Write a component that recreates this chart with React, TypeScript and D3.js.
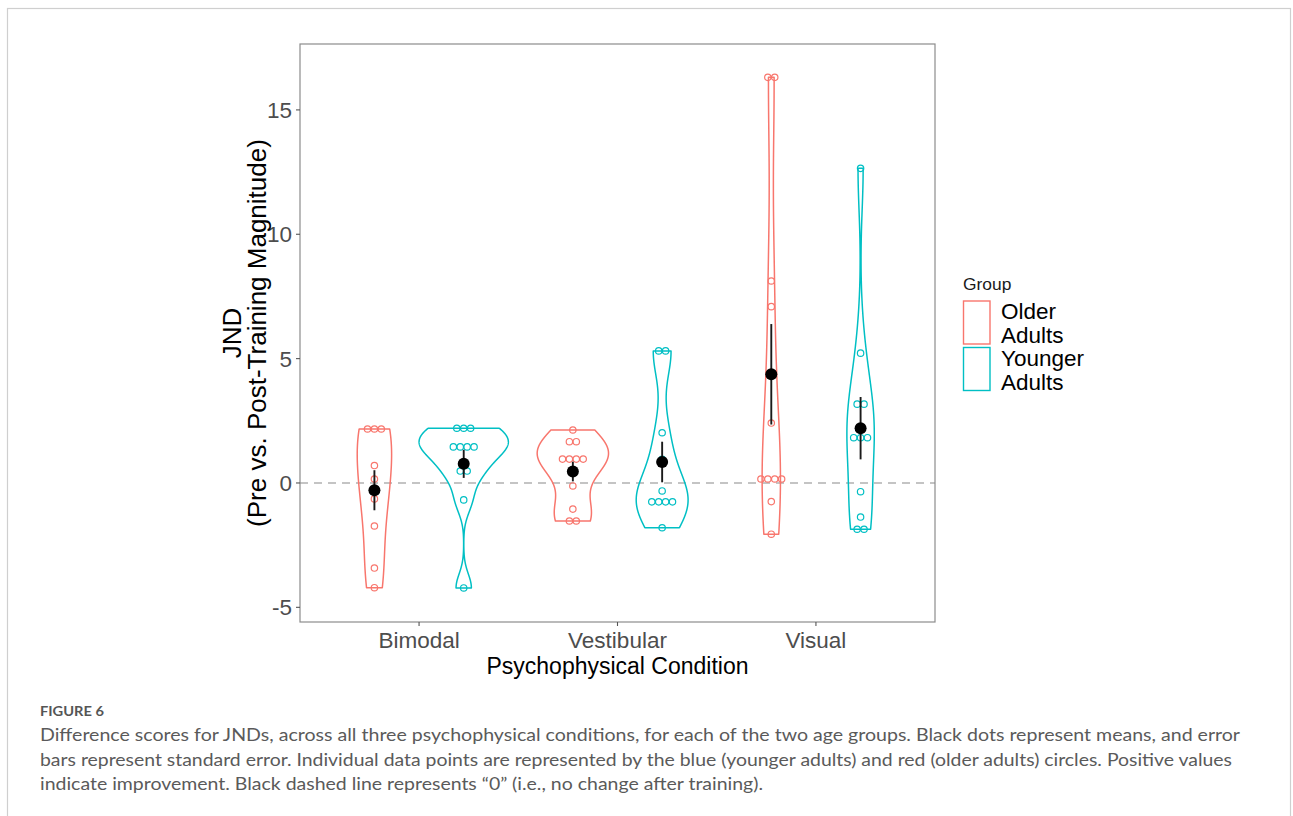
import * as d3 from "d3";

const conditions = ["Bimodal", "Vestibular", "Visual"];
const groupLabels = [["Older", "Adults"], ["Younger", "Adults"]];
const groupColors = ["#F8766D", "#00BFC4"];

// individual difference scores
const bimodalOlder = [2.17, 2.17, 2.17, 0.7, 0.16, -0.64, -1.73, -3.42, -4.21];
const bimodalYounger = [2.2, 2.2, 2.2, 1.45, 1.45, 1.45, 1.45, 0.48, 0.48, -0.68, -4.22];
const vestibularOlder = [2.13, 1.66, 1.66, 0.96, 0.96, 0.96, 0.96, -0.12, -1.05, -1.53, -1.53];
const vestibularYounger = [5.31, 5.31, 2.02, 0.95, -0.32, -0.76, -0.76, -0.76, -0.76, -1.8];
const visualOlder = [16.31, 16.31, 8.12, 7.09, 2.41, 0.16, 0.16, 0.16, 0.16, -0.75, -2.06];
const visualYounger = [12.65, 5.22, 3.17, 3.17, 1.82, 1.82, 1.82, -0.35, -1.37, -1.86, -1.86];

const yTicks = [-5, 0, 5, 10, 15];

const captionLines = [
  "Difference scores for JNDs, across all three psychophysical conditions, for each of the two age groups. Black dots represent means, and error",
  "bars represent standard error. Individual data points are represented by the blue (younger adults) and red (older adults) circles. Positive values",
  "indicate improvement. Black dashed line represents \u201c0\u201d (i.e., no change after training).",
];
const captionWidths = [1200, 1192, 723];

const series = [
  { condition: "Bimodal", group: 0, values: bimodalOlder },
  { condition: "Bimodal", group: 1, values: bimodalYounger },
  { condition: "Vestibular", group: 0, values: vestibularOlder },
  { condition: "Vestibular", group: 1, values: vestibularYounger },
  { condition: "Visual", group: 0, values: visualOlder },
  { condition: "Visual", group: 1, values: visualYounger },
];

const WIDTH = 1293;
const HEIGHT = 816;
const PANEL = { left: 300, right: 935, top: 44, bottom: 622 };
const FONT = "'Liberation Sans', Arial, Helvetica, sans-serif";
const DOT = 6.9;

// R's bw.nrd0
function bandwidth(values: number[]): number {
  const sorted = [...values].sort(d3.ascending);
  const sd = d3.deviation(sorted) ?? 0;
  const iqr = ((d3.quantileSorted(sorted, 0.75) ?? 0) - (d3.quantileSorted(sorted, 0.25) ?? 0)) / 1.34;
  let lo = Math.min(sd, iqr);
  if (!(lo > 0)) lo = sd || 1;
  return 0.9 * lo * Math.pow(sorted.length, -0.2);
}

function kde(values: number[]) {
  const bw = bandwidth(values);
  const [lo, hi] = d3.extent(values) as [number, number];
  return d3.range(512).map((i) => {
    const t = lo + ((hi - lo) * i) / 511;
    const d = d3.sum(values, (v) => Math.exp(-0.5 * ((t - v) / bw) ** 2)) / (values.length * bw * Math.sqrt(2 * Math.PI));
    return { t, d };
  });
}

export default function App() {
  const x = d3.scalePoint<string>().domain(conditions).range([PANEL.left, PANEL.right]).padding(0.6);
  const y = d3.scaleLinear().domain([-5.59, 17.65]).range([PANEL.bottom, PANEL.top]);
  const half = x.step() * 0.225;
  const densities = series.map((s) => kde(s.values));
  const maxD = d3.max(densities, (ds) => d3.max(ds, (p) => p.d)) ?? 1;
  const line = d3.line<[number, number]>();

  return (
    <div style={{ position: "absolute", left: 0, top: 0 }}>
      <svg width={WIDTH} height={HEIGHT} style={{ display: "block", background: "#fff" }}>
        <rect x={7.5} y={8.5} width={1283} height={900} fill="#fff" stroke="#cfcfcf" strokeWidth={1.2} />

        <line x1={PANEL.left} x2={PANEL.right} y1={y(0)} y2={y(0)} stroke="#8a8a8a" strokeWidth={1.1} strokeDasharray="8 6" />

        {series.map((s, i) => {
          const cx = (x(s.condition) ?? 0) + (s.group === 0 ? -half : half);
          const ds = densities[i];
          const right = ds.map((p) => [cx + (p.d / maxD) * half, y(p.t)] as [number, number]);
          const left = ds.map((p) => [cx - (p.d / maxD) * half, y(p.t)] as [number, number]).reverse();
          const stacks = d3.rollups(s.values, (v) => v.length, (v) => v);
          const mean = d3.mean(s.values) ?? 0;
          const se = (d3.deviation(s.values) ?? 0) / Math.sqrt(s.values.length);
          const color = groupColors[s.group];
          return (
            <g key={i}>
              <path d={(line([...right, ...left]) ?? "") + "Z"} fill="none" stroke={color} strokeWidth={1.5} strokeLinejoin="round" />
              {stacks.flatMap(([value, count]) =>
                d3.range(count).map((k) => (
                  <circle
                    key={`${value}-${k}`}
                    cx={cx + (k - (count - 1) / 2) * DOT}
                    cy={y(value)}
                    r={3.2}
                    fill="none"
                    stroke={color}
                    strokeWidth={1.2}
                  />
                ))
              )}
              <line x1={cx} x2={cx} y1={y(mean - se)} y2={y(mean + se)} stroke="#1a1a1a" strokeWidth={1.9} />
              <circle cx={cx} cy={y(mean)} r={6} fill="#000" />
            </g>
          );
        })}

        <rect
          x={PANEL.left}
          y={PANEL.top}
          width={PANEL.right - PANEL.left}
          height={PANEL.bottom - PANEL.top}
          fill="none"
          stroke="#8c8c8c"
          strokeWidth={1.2}
        />

        {yTicks.map((t) => (
          <g key={t}>
            <line x1={PANEL.left - 4} x2={PANEL.left} y1={y(t)} y2={y(t)} stroke="#555" strokeWidth={1.1} />
            <text x={PANEL.left - 8} y={y(t)} dy="0.36em" textAnchor="end" fontFamily={FONT} fontSize={22.5} fill="#4d4d4d">
              {t}
            </text>
          </g>
        ))}
        {conditions.map((c) => (
          <g key={c}>
            <line x1={x(c)} x2={x(c)} y1={PANEL.bottom} y2={PANEL.bottom + 4} stroke="#555" strokeWidth={1.1} />
            <text x={x(c)} y={648} textAnchor="middle" fontFamily={FONT} fontSize={22.5} fill="#4d4d4d">
              {c}
            </text>
          </g>
        ))}

        <text x={(PANEL.left + PANEL.right) / 2} y={674} textAnchor="middle" fontFamily={FONT} fontSize={23} fill="#000">
          Psychophysical Condition
        </text>
        <g transform={`translate(0 ${(PANEL.top + PANEL.bottom) / 2}) rotate(-90)`}>
          <text x={0} y={241} textAnchor="middle" fontFamily={FONT} fontSize={26} fill="#000">
            JND
          </text>
          <text x={0} y={266} textAnchor="middle" fontFamily={FONT} fontSize={26} fill="#000">
            (Pre vs. Post-Training Magnitude)
          </text>
        </g>

        <text x={963} y={290} fontFamily={FONT} fontSize={17.4} fill="#1a1a1a">
          Group
        </text>
        {groupLabels.map((lab, i) => (
          <g key={i} transform={`translate(0 ${i * 46.5})`}>
            <rect x={963.5} y={301} width={26.5} height={43} fill="#fff" stroke={groupColors[i]} strokeWidth={1.4} />
            <text x={1001} y={319} fontFamily={FONT} fontSize={22.5} fill="#000">
              {lab[0]}
            </text>
            <text x={1001} y={343} fontFamily={FONT} fontSize={22.5} fill="#000">
              {lab[1]}
            </text>
          </g>
        ))}

        <text x={40} y={716} fontFamily="Lato, 'Open Sans', sans-serif" fontSize={13.5} fontWeight={700} fill="#555" textLength={64} lengthAdjust="spacingAndGlyphs">
          FIGURE 6
        </text>
        {captionLines.map((l, i) => (
          <text
            key={i}
            x={40}
            y={741 + i * 24.5}
            fontFamily="Lato, 'Open Sans', sans-serif"
            fontSize={18}
            fill="#5a5a5a"
            textLength={captionWidths[i]}
            lengthAdjust="spacingAndGlyphs"
          >
            {l}
          </text>
        ))}
      </svg>
    </div>
  );
}
